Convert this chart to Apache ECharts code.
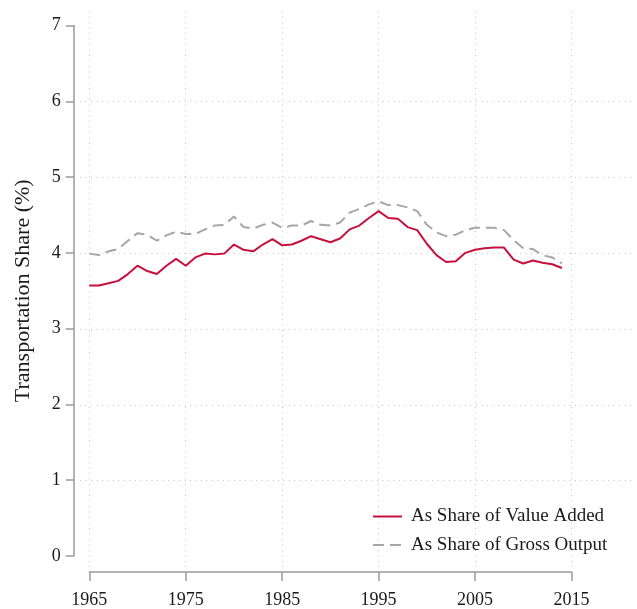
<!DOCTYPE html>
<html>
<head>
<meta charset="utf-8">
<script src="https://cdn.jsdelivr.net/npm/echarts@6/dist/echarts.min.js"></script>
<style>
html,body{margin:0;padding:0;background:#fff;}
#c{width:637px;height:609px;}
</style>
</head>
<body>
<div id="c"></div>
<script>
const years = [];
for (let y = 1965; y <= 2014; y++) years.push(y);
const valueAdded = [3.57,3.57,3.60,3.63,3.72,3.83,3.76,3.72,3.83,3.92,
  3.83,3.94,3.99,3.98,3.99,4.11,4.04,4.02,4.11,4.18,
  4.10,4.11,4.16,4.22,4.18,4.14,4.19,4.31,4.36,4.46,
  4.55,4.46,4.45,4.34,4.30,4.12,3.97,3.88,3.89,4.00,
  4.04,4.06,4.07,4.07,3.91,3.86,3.90,3.87,3.85,3.80];
const grossOutput = [3.99,3.97,4.02,4.05,4.16,4.26,4.24,4.16,4.23,4.28,
  4.25,4.25,4.31,4.36,4.37,4.48,4.34,4.32,4.37,4.40,
  4.33,4.36,4.36,4.42,4.37,4.36,4.40,4.53,4.58,4.64,
  4.68,4.63,4.63,4.60,4.55,4.37,4.27,4.22,4.24,4.30,
  4.33,4.33,4.33,4.30,4.17,4.06,4.05,3.97,3.94,3.86];
const xTicks = [1965,1975,1985,1995,2005,2015];
const yTicks = [0,1,2,3,4,5,6,7];
const yGridTicks = [1,2,3,4,5,6];
const seriesNames = ['As Share of Value Added','As Share of Gross Output'];

// layout (pixels)
const W = 637, H = 609;
const dataL = 89.3, dataR = 571.5, dataT = 25.5, dataB = 556.5;
const plotL = 80, plotR = 633, plotT = 11, plotB = 567;
const xMin = 1965, xMax = 2015, yMin = 0, yMax = 7;
const kx = (dataR - dataL) / (xMax - xMin);
const ky = (dataB - dataT) / (yMax - yMin);
const gx0 = xMin - (dataL - plotL) / kx;
const gx1 = xMax + (plotR - dataR) / kx;
const gy0 = yMin - (plotB - dataB) / ky;
const gy1 = yMax + (dataT - plotT) / ky;

const font = "'Liberation Serif','Times New Roman',serif";
const axisColor = '#9a9a9a';
const gridLine = {show: true, lineStyle: {color: '#c4c4c4', width: 1, type: [1, 4.5]}};

const chart = echarts.init(document.getElementById('c'), null, {renderer: 'canvas'});
chart.setOption({
  backgroundColor: '#fff',
  animation: false,
  grid: [
    {left: plotL, right: W - plotR, top: plotT, bottom: H - plotB},
    {left: dataL, right: W - dataR, top: dataT, bottom: H - dataB}
  ],
  legend: {
    orient: 'vertical',
    left: 367, top: 502,
    itemWidth: 29, itemHeight: 14, itemGap: 9.6,
    data: seriesNames,
    itemStyle: {opacity: 0},
    textStyle: {fontFamily: font, fontSize: 19, color: '#1a1a1a', lineHeight: 19, padding: [0,0,0,4]}
  },
  xAxis: [
    {gridIndex: 0, type: 'value', min: gx0, max: gx1,
     axisLine: {show: false}, axisTick: {show: false, customValues: xTicks},
     axisLabel: {show: false, customValues: xTicks}, splitLine: gridLine},
    {gridIndex: 1, type: 'value', min: xMin, max: xMax, offset: 16,
     axisLine: {show: true, onZero: false, lineStyle: {color: axisColor, width: 1.5}},
     axisTick: {show: true, length: 9, inside: false, customValues: xTicks, lineStyle: {color: axisColor, width: 1.5}},
     axisLabel: {customValues: xTicks, margin: 19, fontFamily: font, fontSize: 18, color: '#1a1a1a',
                 formatter: v => String(v)},
     splitLine: {show: false}}
  ],
  yAxis: [
    {gridIndex: 0, type: 'value', min: gy0, max: gy1,
     axisLine: {show: false}, axisTick: {show: false, customValues: yGridTicks},
     axisLabel: {show: false, customValues: yGridTicks}, splitLine: gridLine},
    {gridIndex: 1, type: 'value', min: yMin, max: yMax, offset: 15.5,
     axisLine: {show: true, onZero: false, lineStyle: {color: axisColor, width: 1.5}},
     axisTick: {show: true, length: 8, inside: false, customValues: yTicks, lineStyle: {color: axisColor, width: 1.5}},
     axisLabel: {customValues: yTicks, margin: 13, fontFamily: font, fontSize: 18, color: '#1a1a1a',
                 formatter: v => String(v)},
     splitLine: {show: false},
     name: 'Transportation Share (%)', nameLocation: 'middle', nameRotate: 90, nameGap: 40,
     nameTextStyle: {fontFamily: font, fontSize: 22, color: '#1a1a1a'}}
  ],
  series: [
    {name: seriesNames[0], type: 'line', xAxisIndex: 1, yAxisIndex: 1,
     data: years.map((y, i) => [y, valueAdded[i]]),
     showSymbol: false, symbol: 'none',
     itemStyle: {color: '#c8103c'},
     lineStyle: {color: '#c8103c', width: 2}},
    {name: seriesNames[1], type: 'line', xAxisIndex: 1, yAxisIndex: 1,
     data: years.map((y, i) => [y, grossOutput[i]]),
     showSymbol: false, symbol: 'none',
     itemStyle: {color: '#a6a6a6'},
     lineStyle: {color: '#a6a6a6', width: 2, type: [11, 6]}}
  ]
});
</script>
</body>
</html>
